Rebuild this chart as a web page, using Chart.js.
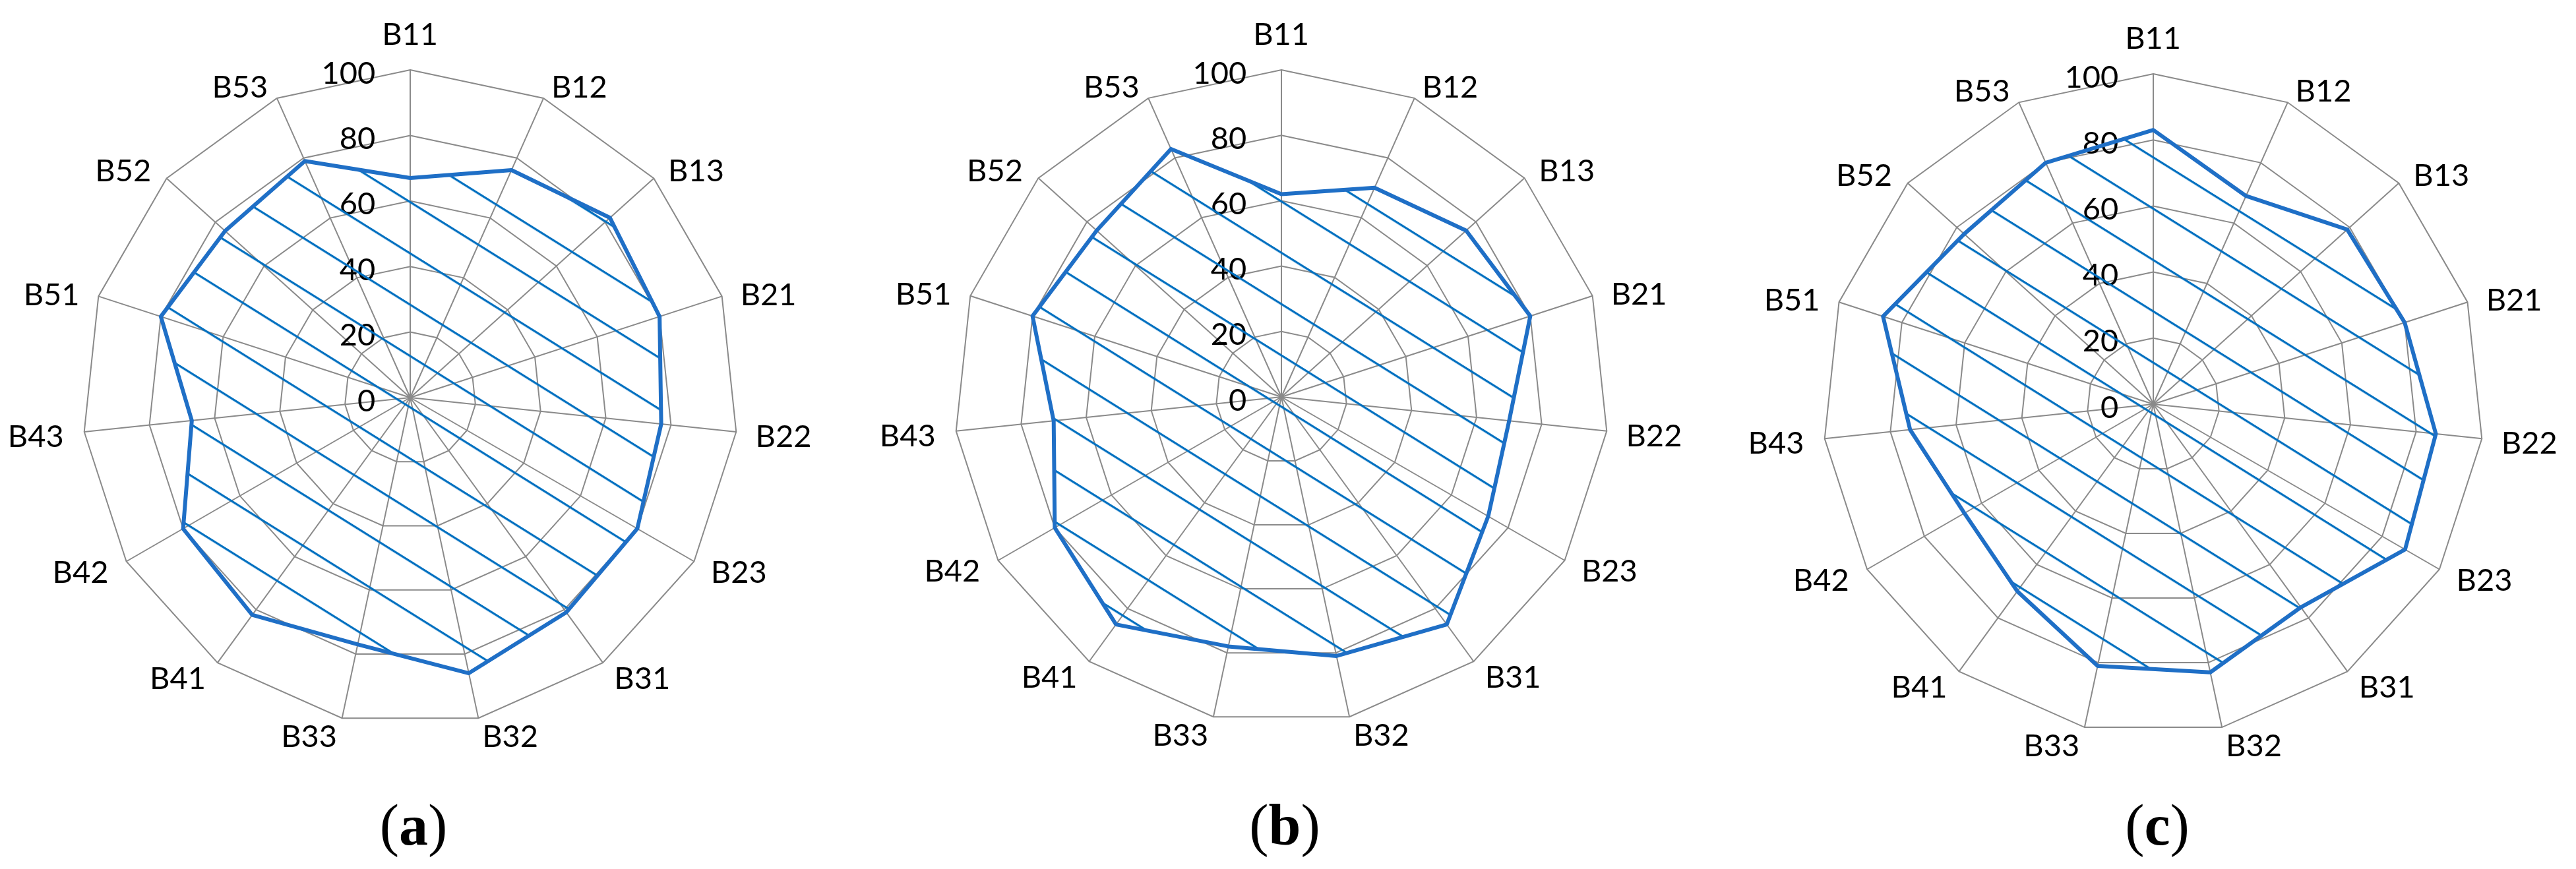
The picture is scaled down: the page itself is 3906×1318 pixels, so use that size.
<!DOCTYPE html>
<html>
<head>
<meta charset="utf-8">
<script src="https://cdn.jsdelivr.net/npm/chart.js@4.4.1/dist/chart.umd.min.js"></script>
<style>
  html, body { margin: 0; padding: 0; background: #fff; }
  #page { position: relative; width: 3906px; height: 1318px; overflow: hidden; background: #fff; }
  canvas { position: absolute; top: 0; }
  .cap { position: absolute; top: 1208px; width: 300px; text-align: center; font-family: "Liberation Serif", "DejaVu Serif", serif;
         font-size: 88px; line-height: 88px; color: #000; white-space: nowrap; }
  .cap b { font-weight: bold; }
</style>
</head>
<body>
<div id="page">
  <canvas id="chartA" width="1302" height="1318" style="left:0px"></canvas>
  <canvas id="chartB" width="1302" height="1318" style="left:1302px"></canvas>
  <canvas id="chartC" width="1302" height="1318" style="left:2604px"></canvas>
  <div class="cap" style="left:477px">(<b>a</b>)</div>
  <div class="cap" style="left:1798px">(<b>b</b>)</div>
  <div class="cap" style="left:3121px">(<b>c</b>)</div>
</div>
<script>
// categories (spokes, clockwise from the top)
const categories = ['B11', 'B12', 'B13', 'B21', 'B22', 'B23', 'B31', 'B32', 'B33', 'B41', 'B42', 'B43', 'B51', 'B52', 'B53'];

// values
const valuesA = [67, 76, 82, 80, 77, 80, 81, 86, 77, 82, 80, 67, 80, 76, 79];
const valuesB = [62, 70, 76, 80, 70, 73, 86, 81, 78, 86, 80, 70, 80, 76, 83];
const valuesC = [83, 69, 79, 80, 86, 88, 76, 83, 81, 70, 66, 74, 86, 77, 80];

// radial axis
const axisMin = 0;
const axisMax = 100;
const axisStep = 20;

const GRID = '#8a8a8a';
const LINE = '#1f6fc6';
const HATCH = '#0070c0';
const FONT = '47px Lato, "Open Sans", sans-serif';

// diagonal hatch as a rotated line pattern, anchored on the chart centre
function makeHatch(ctx, cx, cy) {
    const tile = document.createElement('canvas');
    tile.width = 16;
    tile.height = 66;
    const t = tile.getContext('2d');
    t.fillStyle = HATCH;
    t.fillRect(0, 0, 16, 3.2);
    const pat = ctx.createPattern(tile, 'repeat');
    pat.setTransform(new DOMMatrix().translate(cx, cy + 13).rotate(32));
    return pat;
}

// tick numbers left of the vertical axis and Excel-like category labels
const excelLabels = {
    id: 'excelLabels',
    beforeDatasetsDraw(chart) {
        const sc = chart.scales.r;
        const ctx = chart.ctx;
        const r = sc.drawingArea;
        ctx.save();
        ctx.font = FONT;
        ctx.fillStyle = '#000';
        ctx.textBaseline = 'alphabetic';

        ctx.textAlign = 'right';
        sc.ticks.forEach((t) => {
            const label = String(t.value);
            const m = ctx.measureText(label);
            const yc = sc.yCenter - sc.getDistanceFromCenterForValue(t.value) + 4;
            const x = sc.xCenter - 54 - m.actualBoundingBoxRight;
            ctx.fillText(label, x, yc + (m.actualBoundingBoxAscent - m.actualBoundingBoxDescent) / 2);
        });

        ctx.textAlign = 'left';
        chart.data.labels.forEach((lab, i) => {
            const p = sc.getPointPosition(i, r);
            const ux = (p.x - sc.xCenter) / r;
            const uy = (p.y - sc.yCenter) / r;
            const m = ctx.measureText(lab);
            const inkW = m.actualBoundingBoxLeft + m.actualBoundingBoxRight;
            let lx, ly;
            if (Math.abs(ux) < 0.01) {
                lx = sc.xCenter;
                ly = sc.yCenter + uy * 1.109 * r;
            } else {
                lx = sc.xCenter + 1.06 * r * ux + Math.sign(ux) * (3.6 + inkW / 2);
                ly = sc.yCenter + 1.048 * r * uy + 4;
            }
            const x = lx - inkW / 2 + m.actualBoundingBoxLeft;
            const y = ly + (m.actualBoundingBoxAscent - m.actualBoundingBoxDescent) / 2;
            ctx.fillText(lab, x, y);
        });
        ctx.restore();
    }
};

function drawPanel(id, values, cx, cy, r) {
    const canvas = document.getElementById(id);
    const ctx = canvas.getContext('2d');
    return new Chart(ctx, {
        type: 'radar',
        data: {
            labels: categories,
            datasets: [{
                data: values,
                borderColor: LINE,
                borderWidth: 6,
                borderJoinStyle: 'round',
                backgroundColor: makeHatch(ctx, cx, cy),
                fill: 'origin',
                pointRadius: 0,
                pointHoverRadius: 0,
                tension: 0
            }]
        },
        options: {
            responsive: false,
            animation: false,
            events: [],
            layout: {
                padding: { left: cx - r, right: canvas.width - cx - r, top: cy - r, bottom: canvas.height - cy - r }
            },
            plugins: { legend: { display: false }, tooltip: { enabled: false } },
            scales: {
                r: {
                    min: axisMin,
                    max: axisMax,
                    ticks: { stepSize: axisStep, display: false },
                    pointLabels: { display: false },
                    grid: { color: GRID, lineWidth: 2 },
                    angleLines: { color: GRID, lineWidth: 2 }
                }
            }
        },
        plugins: [excelLabels]
    });
}

drawPanel('chartA', valuesA, 622, 603, 497);
drawPanel('chartB', valuesB, 641, 602, 496);
drawPanel('chartC', valuesC, 661, 613, 501);
</script>
</body>
</html>
